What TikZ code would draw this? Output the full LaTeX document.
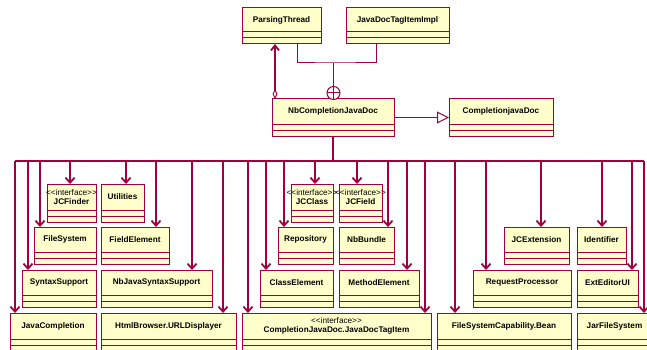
\documentclass[tikz,border=0pt]{standalone}
\usepackage{fontspec}
\setmainfont{Liberation Sans}
\usetikzlibrary{arrows.meta,fit}
\definecolor{umlred}{HTML}{A0003C}
\definecolor{umlfill}{HTML}{FFFFCC}
\tikzset{
  cls/.style={draw=umlred, fill=umlfill, line width=1pt, inner sep=0pt, outer sep=0pt},
  cmp/.style={draw=umlred, line width=1pt},
  clsname/.style={font=\fontsize{8.2}{9}\selectfont\bfseries, inner sep=0pt, align=center},
  dep/.style={draw=umlred, line width=1.8pt, -{Straight Barb[length=5pt,width=9pt]}},
  bus/.style={draw=umlred, line width=1.2pt},
  thin/.style={draw=umlred, line width=1pt},
  aggr/.style={draw=umlred, line width=1.8pt, {Diamond[open,length=10pt,width=5pt,line width=1pt,fill=white]}-{Straight Barb[length=5pt,width=8pt]}},
  gen/.style={draw=umlred, line width=1pt, -{Triangle[open,length=12pt,width=12pt,fill=white]}},
  nest/.style={circle, draw=umlred, fill=white, line width=1pt, minimum size=13pt, inner sep=0pt, outer sep=0pt},
}
\newcommand\umlclass[6]{%
  \node[cls, fit={(#2,#3) (#4,#5)}] (#1) {};
  \draw[cmp] ([yshift=12pt]#1.south west) -- ([yshift=12pt]#1.south east);
  \draw[cmp] ([yshift=6pt]#1.south west) -- ([yshift=6pt]#1.south east);
  \path (#1.north) -- ([yshift=12pt]#1.south) node[midway, clsname] {#6};
}
\newcommand\ster{{\mdseries <{}<interface>{}>}\\}
\begin{document}
\begin{tikzpicture}[x=1pt, y=-1pt]
\useasboundingbox[fill=white] (0,0) rectangle (647,350);
\umlclass{pt}{242}{8}{321}{44}{ParsingThread}
\umlclass{jdi}{346}{8}{449}{44}{JavaDocTagItemImpl}
\umlclass{nb}{272}{99}{394}{136}{NbCompletionJavaDoc}
\umlclass{cjd}{449}{99}{553}{136}{CompletionjavaDoc}
\umlclass{jcf}{47}{184}{96}{222}{\ster JCFinder}
\umlclass{util}{101}{184}{144}{222}{Utilities}
\umlclass{fs}{34}{227}{96}{264}{FileSystem}
\umlclass{fe}{101}{227}{169}{264}{FieldElement}
\umlclass{ss}{22}{270}{96}{307}{SyntaxSupport}
\umlclass{njss}{101}{270}{212}{307}{NbJavaSyntaxSupport}
\umlclass{jc}{10}{313}{96}{351}{JavaCompletion}
\umlclass{html}{101}{313}{236}{351}{HtmlBrowser.URLDisplayer}
\umlclass{cjdti}{242}{313}{431}{351}{\ster CompletionJavaDoc.JavaDocTagItem}
\umlclass{ce}{260}{270}{333}{307}{ClassElement}
\umlclass{repo}{278}{227}{333}{264}{Repository}
\umlclass{jcc}{291}{184}{333}{222}{\ster JCClass}
\umlclass{jcfd}{339}{184}{382}{222}{\ster JCField}
\umlclass{nbb}{339}{227}{394}{264}{NbBundle}
\umlclass{me}{339}{270}{419}{307}{MethodElement}
\umlclass{fscb}{437}{313}{571}{351}{FileSystemCapability.Bean}
\umlclass{rp}{473}{270}{571}{307}{RequestProcessor}
\umlclass{jce}{504}{227}{569}{264}{JCExtension}
\umlclass{ident}{577}{227}{626}{264}{Identifier}
\umlclass{eeui}{577}{270}{638}{307}{ExtEditorUI}
\umlclass{jfs}{577}{313}{652}{351}{JarFileSystem}
% nesting
\node[nest] (plus) at (333.5,93) {};
\draw[thin] (plus.north) -- (plus.south);
\draw[thin] (plus.west) -- (plus.east);
\coordinate (nestj) at (333.5,63);
\draw[thin] (297,0 |- pt.south) |- (nestj) -| (376,0 |- jdi.south);
\draw[thin] (nestj) -- (plus.north);
% aggregation
\draw[aggr] (275,0 |- nb.north) -- (275,0 |- pt.south);
% generalization
\draw[gen] (nb.east) -- (cjd.west);
% bus
\coordinate (busL) at (15,161);
\coordinate (busR) at (644,161);
\draw[bus] (busL) -- (busR);
\draw[bus] (nb.south) -- (nb.south |- busL);
\foreach \x/\t in {15/jc, 28/ss, 40/fs, 70/jcf, 126/util, 156/fe, 192/njss, 223/html,
  248/cjdti, 266/ce, 284/repo, 315/jcc, 357/jcfd, 388/nbb, 407/me, 425/cjdti,
  455/fscb, 486/rp, 541/jce, 602/ident, 632/eeui, 644/jfs}
  \draw[dep] (\x,161) -- (\x,0 |- \t.north);
\end{tikzpicture}
\end{document}
